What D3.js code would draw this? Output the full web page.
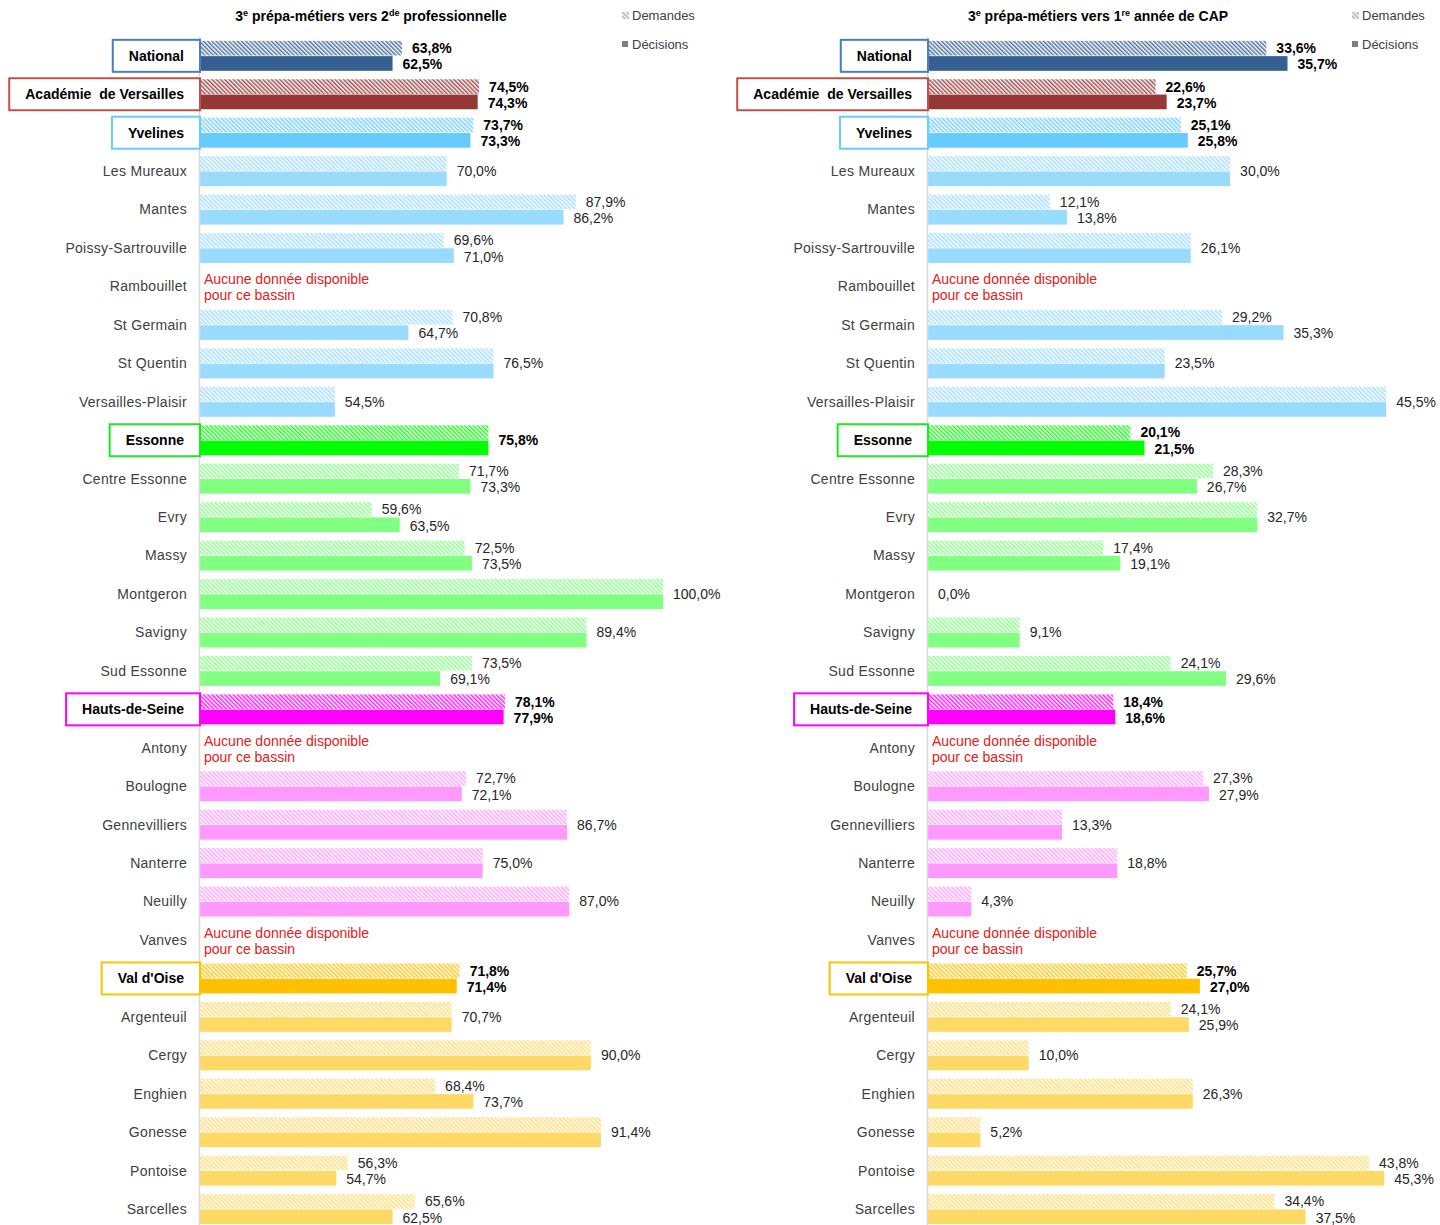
<!DOCTYPE html>
<html>
<head>
<meta charset="utf-8">
<script src="https://cdn.jsdelivr.net/npm/d3@7/dist/d3.min.js"></script>
<style>
  body { margin: 0; background: #fff; }
  svg { font-family: "Liberation Sans", Arial, sans-serif; }
</style>
</head>
<body>
<svg id="chart" width="1440" height="1225"></svg>
<script>
// rows of the chart, top to bottom
const categories = [
  "National", "Académie  de Versailles", "Yvelines", "Les Mureaux", "Mantes",
  "Poissy-Sartrouville", "Rambouillet", "St Germain", "St Quentin", "Versailles-Plaisir",
  "Essonne", "Centre Essonne", "Evry", "Massy", "Montgeron", "Savigny", "Sud Essonne",
  "Hauts-de-Seine", "Antony", "Boulogne", "Gennevilliers", "Nanterre", "Neuilly", "Vanves",
  "Val d'Oise", "Argenteuil", "Cergy", "Enghien", "Gonesse", "Pontoise", "Sarcelles"
];
// which colour family each row belongs to
const rowGroups = [
  "nat", "aca", "78", "78", "78", "78", "78", "78", "78", "78",
  "91", "91", "91", "91", "91", "91", "91",
  "92", "92", "92", "92", "92", "92", "92",
  "95", "95", "95", "95", "95", "95", "95"
];
// rows drawn with a framed bold label
const headRows = ["National", "Académie  de Versailles", "Yvelines", "Essonne", "Hauts-de-Seine", "Val d'Oise"];

// 3e prépa-métiers vers 2de professionnelle (%)
const demandes2de = [63.8, 74.5, 73.7, 70.0, 87.9, 69.6, null, 70.8, 76.5, 54.5,
  75.8, 71.7, 59.6, 72.5, 100.0, 89.4, 73.5,
  78.1, null, 72.7, 86.7, 75.0, 87.0, null,
  71.8, 70.7, 90.0, 68.4, 91.4, 56.3, 65.6];
const decisions2de = [62.5, 74.3, 73.3, 70.0, 86.2, 71.0, null, 64.7, 76.5, 54.5,
  75.8, 73.3, 63.5, 73.5, 100.0, 89.4, 69.1,
  77.9, null, 72.1, 86.7, 75.0, 87.0, null,
  71.4, 70.7, 90.0, 73.7, 91.4, 54.7, 62.5];

// 3e prépa-métiers vers 1re année de CAP (%)
const demandesCAP = [33.6, 22.6, 25.1, 30.0, 12.1, 26.1, null, 29.2, 23.5, 45.5,
  20.1, 28.3, 32.7, 17.4, 0.0, 9.1, 24.1,
  18.4, null, 27.3, 13.3, 18.8, 4.3, null,
  25.7, 24.1, 10.0, 26.3, 5.2, 43.8, 34.4];
const decisionsCAP = [35.7, 23.7, 25.8, 30.0, 13.8, 26.1, null, 35.3, 23.5, 45.5,
  21.5, 26.7, 32.7, 19.1, 0.0, 9.1, 29.6,
  18.6, null, 27.9, 13.3, 18.8, 4.3, null,
  27.0, 25.9, 10.0, 26.3, 5.2, 45.3, 37.5];

const legendLabels = ["Demandes", "Décisions"];

const groupColors = {
  nat: { head: "#376092", bar: "#376092", frame: "#4a7ebb" },
  aca: { head: "#953735", bar: "#953735", frame: "#c0504d" },
  "78": { head: "#66ccff", bar: "#99dbff", frame: "#66ccff" },
  "91": { head: "#00ff00", bar: "#80ff80", frame: "#1ee81e" },
  "92": { head: "#ff00ff", bar: "#ff99ff", frame: "#ff00ff" },
  "95": { head: "#ffc000", bar: "#ffd966", frame: "#ffc000" }
};

const svg = d3.select("svg#chart");
const defs = svg.append("defs");

function rowColor(i) {
  const c = groupColors[rowGroups[i]];
  return headRows.includes(categories[i]) ? c.head : c.bar;
}

// one hatch pattern per colour
function hatchId(color) {
  const id = "hatch" + color.replace("#", "");
  if (defs.select("#" + id).empty()) {
    const p = defs.append("pattern")
      .attr("id", id)
      .attr("patternUnits", "userSpaceOnUse")
      .attr("width", 3)
      .attr("height", 3)
      .attr("patternTransform", "rotate(-45)");
    p.append("rect").attr("width", 3).attr("height", 3).attr("fill", "#fff");
    p.append("line")
      .attr("x1", 0.8).attr("y1", 0).attr("x2", 0.8).attr("y2", 3)
      .attr("stroke", color).attr("stroke-width", 1.35);
  }
  return "url(#" + id + ")";
}

const y = d3.scaleBand()
  .domain(categories)
  .range([36.6, 1228.3])
  .paddingInner(0.22)
  .paddingOuter(0.11);

const ySub = d3.scaleBand()
  .domain(["dem", "dec"])
  .range([0, y.bandwidth()])
  .paddingInner(0.04);

function fmt(v) {
  return v.toFixed(1).replace(".", ",") + "%";
}

function drawPanel(cfg) {
  const g = svg.append("g");
  const x = d3.scaleLinear().domain(cfg.domain).range(cfg.range);
  const x0 = cfg.range[0];

  // title
  const t = g.append("text")
    .attr("x", cfg.titleX)
    .attr("y", 21)
    .attr("text-anchor", "middle")
    .attr("font-size", 14)
    .attr("font-weight", "bold")
    .attr("fill", "#000");
  t.append("tspan").text("3");
  t.append("tspan").attr("font-size", 9).attr("dy", -5).text("e");
  t.append("tspan").attr("dy", 5).text(" prépa-métiers vers " + cfg.titleNum);
  t.append("tspan").attr("font-size", 9).attr("dy", -5).text(cfg.titleSup);
  t.append("tspan").attr("dy", 5).text(" " + cfg.titleEnd);

  // legend
  const lg = g.append("g").attr("transform", `translate(${cfg.legendX},0)`);
  lg.append("rect").attr("x", 0).attr("y", 12).attr("width", 7).attr("height", 7)
    .attr("fill", hatchId("#a6a6a6"));
  lg.append("rect").attr("x", 0).attr("y", 41).attr("width", 6).attr("height", 6)
    .attr("fill", "#7f7f7f");
  lg.selectAll("text.leg")
    .data(legendLabels)
    .join("text")
    .attr("class", "leg")
    .attr("x", 10)
    .attr("y", (d, i) => 20 + i * 29)
    .attr("font-size", 13)
    .attr("fill", "#404040")
    .text((d) => d);

  // bars
  categories.forEach((cat, i) => {
    const top = y(cat);
    const dem = cfg.demandes[i];
    const dec = cfg.decisions[i];
    const col = rowColor(i);
    const head = headRows.includes(cat);

    if (dem == null) {
      const nd = g.append("text")
        .attr("x", x0 + 4)
        .attr("font-size", 14)
        .attr("fill", "#e0201b");
      nd.append("tspan").attr("x", x0 + 4).attr("y", top + y.bandwidth() / 2 - 2).text("Aucune donnée disponible");
      nd.append("tspan").attr("x", x0 + 4).attr("y", top + y.bandwidth() / 2 + 14).text("pour ce bassin");
      return;
    }

    g.append("rect")
      .attr("x", x0)
      .attr("y", top + ySub("dem"))
      .attr("width", Math.max(0, x(dem) - x0))
      .attr("height", ySub.bandwidth())
      .attr("fill", hatchId(col));
    g.append("rect")
      .attr("x", x0)
      .attr("y", top + ySub("dec"))
      .attr("width", Math.max(0, x(dec) - x0))
      .attr("height", ySub.bandwidth())
      .attr("fill", col);

    const lab = (v, yy) => g.append("text")
      .attr("x", x(v) + 10)
      .attr("y", yy)
      .attr("dy", "0.35em")
      .attr("font-size", 14)
      .attr("font-weight", head ? "bold" : "normal")
      .attr("fill", head ? "#000" : "#262626")
      .text(fmt(v));

    if (dem === dec) {
      lab(dem, top + y.bandwidth() / 2);
    } else {
      lab(dem, top + ySub("dem") + ySub.bandwidth() / 2);
      lab(dec, top + ySub("dec") + ySub.bandwidth() / 2 + 1);
    }
  });

  // axis line
  g.append("line")
    .attr("x1", x0 - 0.5).attr("x2", x0 - 0.5)
    .attr("y1", y.range()[0]).attr("y2", y.range()[1])
    .attr("stroke", "#d9d9d9")
    .attr("stroke-width", 1.5);

  // category labels
  categories.forEach((cat, i) => {
    const cy = y(cat) + y.bandwidth() / 2;
    if (headRows.includes(cat)) {
      const txt = g.append("text")
        .attr("y", cy)
        .attr("dy", "0.35em")
        .attr("text-anchor", "middle")
        .attr("font-size", 14)
        .attr("font-weight", "bold")
        .attr("fill", "#000")
        .style("white-space", "pre")
        .text(cat);
      const w = txt.node().getComputedTextLength();
      const bw = w + 32;
      const right = x0;
      g.insert("rect", () => txt.node())
        .attr("x", right - bw)
        .attr("y", cy - 16)
        .attr("width", bw)
        .attr("height", 32)
        .attr("fill", "#fff")
        .attr("stroke", groupColors[rowGroups[i]].frame)
        .attr("stroke-width", 2);
      txt.attr("x", right - bw / 2);
    } else {
      g.append("text")
        .attr("x", x0 - 13)
        .attr("y", cy)
        .attr("dy", "0.35em")
        .attr("text-anchor", "end")
        .attr("font-size", 14)
        .attr("letter-spacing", 0.3)
        .attr("fill", "#404040")
        .text(cat);
    }
  });
}

drawPanel({
  domain: [35.8, 100],
  range: [200, 663],
  demandes: demandes2de,
  decisions: decisions2de,
  titleX: 371,
  titleNum: "2",
  titleSup: "de",
  titleEnd: "professionnelle",
  legendX: 622
});

drawPanel({
  domain: [0, 50],
  range: [928, 1431.5],
  demandes: demandesCAP,
  decisions: decisionsCAP,
  titleX: 1098,
  titleNum: "1",
  titleSup: "re",
  titleEnd: "année de CAP",
  legendX: 1352
});
</script>
</body>
</html>
